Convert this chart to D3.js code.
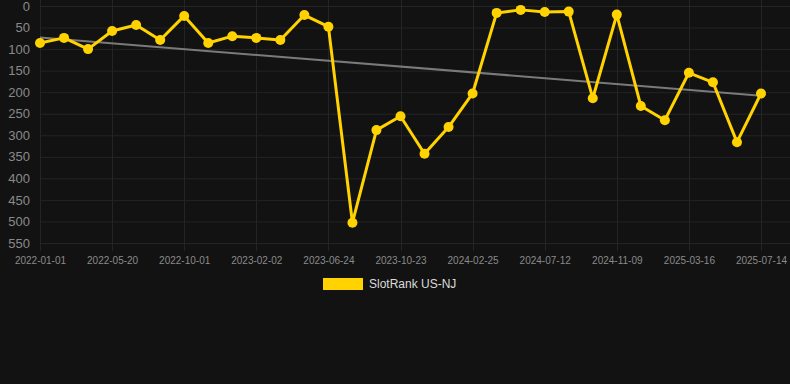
<!DOCTYPE html>
<html>
<head>
<meta charset="utf-8">
<script src="https://cdn.jsdelivr.net/npm/d3@7"></script>
<style>
  html, body { margin: 0; padding: 0; background: #121212; }
  svg { display: block; font-family: "Liberation Sans", Arial, sans-serif; }
</style>
</head>
<body>
<div id="chart"></div>
<script>
// tick labels shown under every third point
var tickLabels = ["2022-01-01","2022-05-20","2022-10-01","2023-02-02","2023-06-24","2023-10-23",
                  "2024-02-25","2024-07-12","2024-11-09","2025-03-16","2025-07-14"]
var ranks = [86,74,100,58,44,79,23,86,70,74,79,21,48,503,288,256,343,281,203,16,9,14,13,214,20,232,265,155,177,316,203]
var trend = [73,208]
var yTicks = [0,50,100,150,200,250,300,350,400,450,500,550]
var seriesName = "SlotRank US-NJ"

var width = 790, height = 384
var margin = {top: 6, left: 40, right: 29, bottom: 141}
var gold = "#ffd200"

var svg = d3.select("#chart").append("svg")
  .attr("width", width)
  .attr("height", height)

svg.append("rect").attr("width", width).attr("height", height).attr("fill", "#121212")

var idx = d3.range(ranks.length)
var x = d3.scalePoint()
  .domain(idx)
  .range([margin.left, width - margin.right])

var y = d3.scaleLinear()
  .domain([0, 550])
  .range([margin.top, height - margin.bottom])

// horizontal grid
svg.append("g")
  .selectAll("line")
  .data(yTicks)
  .enter().append("line")
  .attr("x1", margin.left)
  .attr("x2", width)
  .attr("y1", d => y(d) + 0.5)
  .attr("y2", d => y(d) + 0.5)
  .attr("stroke", "#242424")

// vertical grid
var tickIdx = idx.filter(d => d % 3 == 0)
svg.append("g")
  .selectAll("line")
  .data(tickIdx)
  .enter().append("line")
  .attr("x1", d => Math.round(x(d)) + 0.5)
  .attr("x2", d => Math.round(x(d)) + 0.5)
  .attr("y1", 0)
  .attr("y2", y(550) + 8)
  .attr("stroke", "#242424")

// y axis labels
var yAxis = svg.append("g")
  .attr("transform", "translate(" + (margin.left - 10) + ",0)")
  .call(d3.axisLeft(y).tickValues(yTicks).tickSize(0).tickPadding(0))
yAxis.select(".domain").remove()
yAxis.selectAll("text")
  .attr("fill", "#8a8a8a")
  .style("font-size", "13px")

// x axis labels
var xAxis = svg.append("g")
  .attr("transform", "translate(0," + (y(550) + 10) + ")")
  .call(d3.axisBottom(x).tickValues(tickIdx).tickSize(0).tickPadding(4)
    .tickFormat(d => tickLabels[d / 3]))
xAxis.select(".domain").remove()
xAxis.selectAll("text")
  .attr("fill", "#8a8a8a")
  .style("font-size", "10px")

// trend line
svg.append("line")
  .attr("x1", x(0))
  .attr("x2", x(ranks.length - 1))
  .attr("y1", y(trend[0]))
  .attr("y2", y(trend[1]))
  .attr("stroke", "#7a7a7a")
  .attr("stroke-width", 2)

// series line
var line = d3.line()
  .x((d, i) => x(i))
  .y(d => y(d))

svg.append("path")
  .datum(ranks)
  .attr("d", line)
  .attr("fill", "none")
  .attr("stroke", gold)
  .attr("stroke-width", 3)
  .attr("stroke-linejoin", "round")

svg.append("g")
  .selectAll("circle")
  .data(ranks)
  .enter().append("circle")
  .attr("cx", (d, i) => x(i))
  .attr("cy", d => y(d))
  .attr("r", 5)
  .attr("fill", gold)

// legend
var leg = svg.append("g").attr("transform", "translate(323,278)")
leg.append("rect")
  .attr("width", 40)
  .attr("height", 12)
  .attr("fill", gold)
leg.append("text")
  .attr("x", 46)
  .attr("y", 6)
  .attr("dy", ".35em")
  .attr("fill", "#dcdcdc")
  .style("font-size", "12px")
  .text(seriesName)
</script>
</body>
</html>
